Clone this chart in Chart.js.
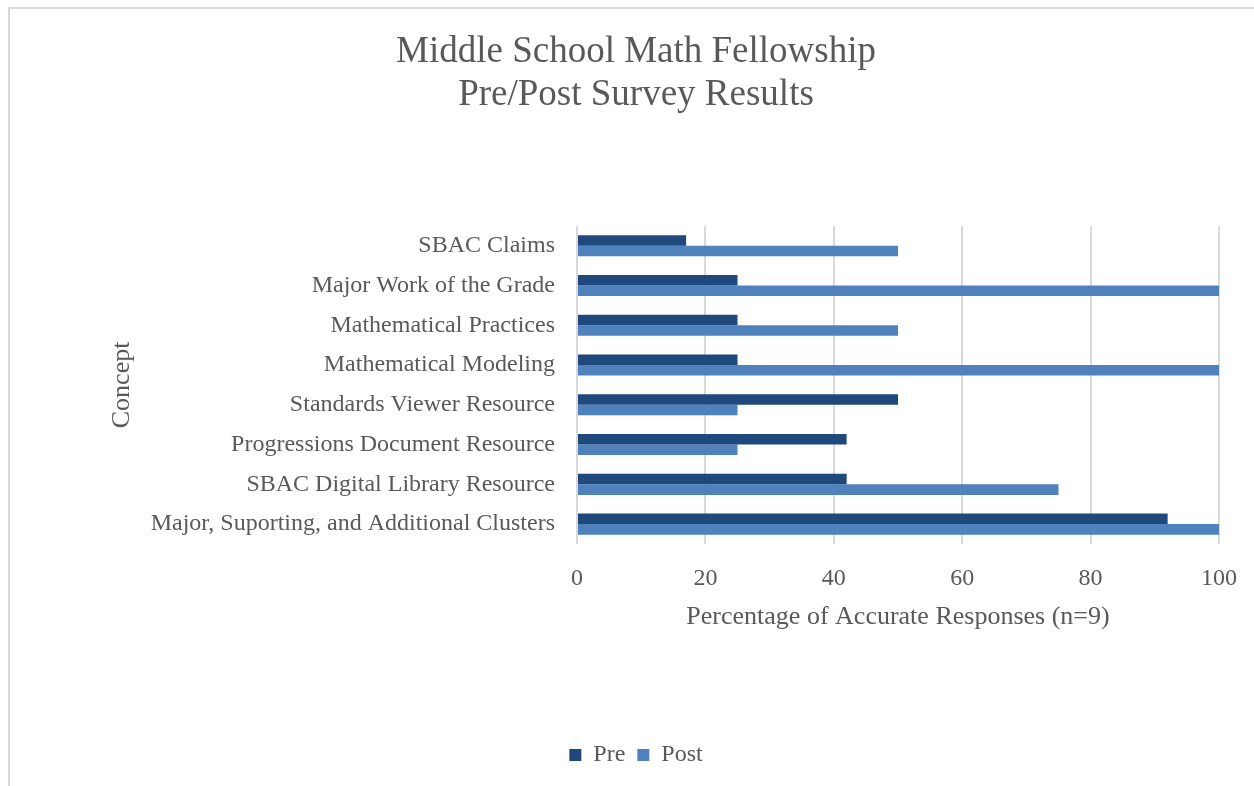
<!DOCTYPE html>
<html>
<head>
<meta charset="utf-8">
<script src="https://cdn.jsdelivr.net/npm/chart.js@4.4.1/dist/chart.umd.min.js"></script>
<style>
  html, body { margin: 0; padding: 0; background: #fff; }
  #frame { position: absolute; left: 8px; top: 7px; width: 1260px; height: 800px;
           border-top: 2px solid #d9d9d9; border-left: 2px solid #d9d9d9; }
  #wrap { position: absolute; left: 0; top: 0; width: 1254px; height: 786px; }
</style>
</head>
<body>
<div id="frame"></div>
<div id="wrap"><canvas id="surveyChart" width="1254" height="786"></canvas></div>
<script>
// --- Data ---
const concepts = [
    'SBAC Claims',
    'Major Work of the Grade',
    'Mathematical Practices',
    'Mathematical Modeling',
    'Standards Viewer Resource',
    'Progressions Document Resource',
    'SBAC Digital Library Resource',
    'Major, Suporting, and Additional Clusters'
];
const preValues = [17, 25, 25, 25, 50, 42, 42, 92];
const postValues = [50, 100, 50, 100, 25, 25, 75, 100];
const xTicks = [0, 20, 40, 60, 80, 100];

const greyText = '#595959';
const serif = "'Liberation Serif', 'Times New Roman', serif";
const padLeft = 53;

const ctx = document.getElementById('surveyChart');
new Chart(ctx.getContext('2d'), {
    type: 'bar',
    data: {
        labels: concepts,
        datasets: [
            { label: 'Pre', data: preValues, backgroundColor: '#1F497D' },
            { label: 'Post', data: postValues, backgroundColor: '#4F81BD' }
        ]
    },
    options: {
        indexAxis: 'y',
        responsive: false,
        animation: false,
        datasets: { bar: { categoryPercentage: 0.53, barPercentage: 1.0 } },
        layout: { padding: { left: padLeft, right: 35, top: 0, bottom: 9 } },
        plugins: {
            title: {
                display: true,
                text: ['Middle School Math Fellowship', 'Pre/Post Survey Results'],
                color: greyText,
                font: { family: serif, size: 37, weight: 'normal', lineHeight: 1.16 },
                padding: { top: 31, bottom: 109 }
            },
            legend: {
                position: 'bottom',
                labels: {
                    color: greyText,
                    font: { family: serif, size: 24 },
                    boxWidth: 12,
                    boxHeight: 12,
                    padding: 12
                }
            },
            tooltip: { enabled: false }
        },
        scales: {
            x: {
                min: 0,
                max: 100,
                afterBuildTicks: scale => { scale.ticks = xTicks.map(v => ({ value: v })); },
                afterFit: scale => { scale.height = 187; scale.paddingRight = 0; scale.paddingLeft = 0; },
                grid: { color: '#d9d9d9', lineWidth: 2, drawTicks: false },
                border: { display: false },
                ticks: { color: greyText, font: { family: serif, size: 24 }, padding: 20 },
                title: {
                    display: true,
                    text: 'Percentage of Accurate Responses (n=9)',
                    color: greyText,
                    font: { family: serif, size: 26 },
                    padding: { top: 0, bottom: 98 }
                }
            },
            y: {
                afterFit: scale => { scale.width = 577 - padLeft; },
                grid: { display: false },
                border: { display: false },
                ticks: { color: greyText, font: { family: serif, size: 24 }, padding: 14 },
                title: {
                    display: true,
                    text: 'Concept',
                    color: greyText,
                    font: { family: serif, size: 26 },
                    padding: { top: 54, bottom: 0 }
                }
            }
        }
    }
});
</script>
</body>
</html>
